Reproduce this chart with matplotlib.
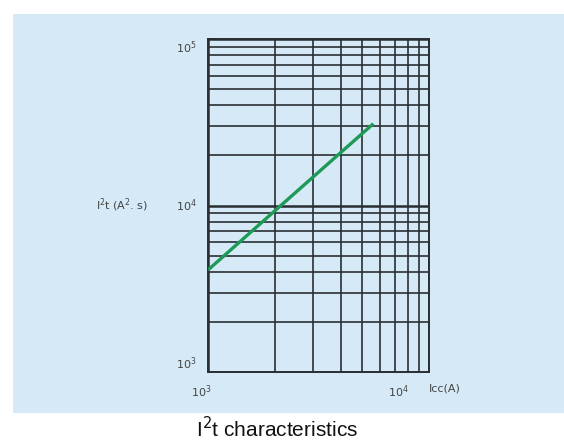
"""I2t characteristic curve on a log-log grid."""

import numpy as np
import matplotlib

matplotlib.use("Agg")

import matplotlib.pyplot as plt
from matplotlib.patches import Rectangle
from matplotlib.ticker import LogLocator, NullFormatter


# data
ICC_A = [1000, 5600]          # prospective current (A)
I2T = [4100, 31000]           # let-through energy (A^2 s)
X_LIMITS = (1e3, 1e4)
Y_LIMITS = (1e3, 1e5)
X_LABELS = ["$10^3$", "$10^4$"]
Y_TICKS = [1e3, 1e4, 1e5]
Y_LABELS = ["$10^3$", "$10^4$", "$10^5$"]

W, H = 564, 442
BG = "#d6e9f6"
GRID = "#2a2e33"
GREEN = "#1e9a58"


def main() -> None:
    fig = plt.figure(figsize=(W / 100, H / 100), dpi=100, facecolor="white")
    bg = Rectangle((13 / W, 1 - 413 / H), 1 - 13 / W, (413 - 14) / H,
                   transform=fig.transFigure, facecolor=BG, edgecolor="none", zorder=-10)
    fig.add_artist(bg)

    ax = fig.add_axes([208 / W, 1 - 372 / H, (429 - 208) / W, (372 - 39) / H])
    ax.set_facecolor(BG)
    ax.set_xscale("log")
    ax.set_yscale("log")
    ax.set_xlim(*X_LIMITS)
    ax.set_ylim(*Y_LIMITS)

    ax.xaxis.set_minor_locator(LogLocator(base=10, subs=np.arange(2, 10)))
    ax.yaxis.set_minor_locator(LogLocator(base=10, subs=np.arange(2, 10)))
    ax.xaxis.set_major_formatter(NullFormatter())
    ax.xaxis.set_minor_formatter(NullFormatter())
    ax.yaxis.set_major_formatter(NullFormatter())
    ax.yaxis.set_minor_formatter(NullFormatter())
    ax.tick_params(which="both", length=0)
    ax.grid(which="minor", color=GRID, linewidth=1.2)
    ax.grid(which="major", color=GRID, linewidth=1.8)
    for sp in ax.spines.values():
        sp.set_color(GRID)
        sp.set_linewidth(1.4)

    ax.plot(ICC_A, I2T, color=GREEN, linewidth=2.4, solid_capstyle="butt", zorder=3)

    tc = dict(fontsize=8, color="#444444", family="DejaVu Sans")
    # y labels: top one hangs below the frame, bottom one sits above it
    vas = ["bottom", "center", "top"]
    for val, lab, va in zip(Y_TICKS, Y_LABELS, vas):
        ax.text(-0.05, val, lab, transform=ax.get_yaxis_transform(), ha="right", va=va, **tc)
    ax.text(-0.27, 0.5, r"I$^2$t (A$^2$. s)", transform=ax.transAxes, ha="right", va="center", **tc)
    # x labels (the 10^4 one sits left of the frame corner in the original)
    ax.text(-0.03, -0.035, X_LABELS[0], transform=ax.transAxes, ha="center", va="top", **tc)
    ax.text(0.91, -0.035, X_LABELS[1], transform=ax.transAxes, ha="right", va="top", **tc)
    ax.text(1.0, -0.035, "Icc(A)", transform=ax.transAxes, ha="left", va="top", **tc)

    fig.text(277 / W, 1 - 416 / H, r"I$^2$t characteristics", ha="center", va="top",
             fontsize=15, color="#111111", family="Liberation Sans")

    fig.savefig("out.png", dpi=100, facecolor="white")
    plt.close(fig)


if __name__ == "__main__":
    main()
